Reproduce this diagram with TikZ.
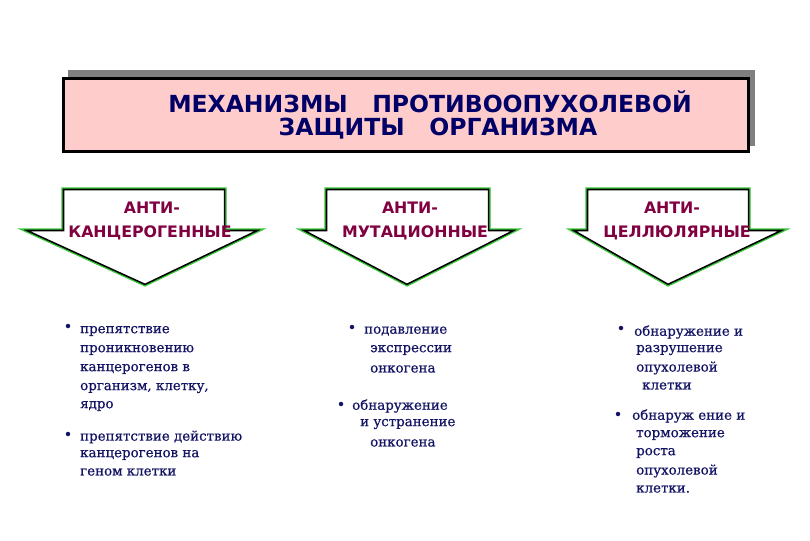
\documentclass[tikz,border=0pt]{standalone}
\usepackage{fontspec}
\setmainfont{DejaVu Serif}
\newfontfamily\headfont{DejaVu Sans}
\newfontfamily\itemfont{DejaVu Serif}[FakeBold=0.6]
\definecolor{navy}{RGB}{0,0,102}
\definecolor{txtblue}{RGB}{20,20,100}
\definecolor{maroon}{RGB}{128,0,64}
\definecolor{pinkbox}{RGB}{255,204,204}
\definecolor{shadowgray}{RGB}{128,128,128}
\definecolor{arrowgreen}{RGB}{60,200,60}
\begin{document}
\begin{tikzpicture}[x=1pt,y=-1pt,
  titletext/.style={font=\headfont\bfseries\fontsize{23.5}{28}\selectfont, text=navy, inner sep=0},
  arrowtext/.style={font=\headfont\bfseries\fontsize{15.8}{19}\selectfont, text=maroon, inner sep=0},
  itemtext/.style={font=\itemfont\fontsize{13.4}{16}\selectfont, text=txtblue, inner sep=0, anchor=west},
  bulletdot/.style={circle, fill=txtblue, inner sep=0, minimum size=4.5pt}
]
\useasboundingbox[fill=white] (0,0) rectangle (810,540);
% title
\fill[shadowgray] (68,70) rectangle (755,146);
\draw[line width=3pt, fill=pinkbox] (63,79) rectangle (748,152);
\node[titletext] (t1) at (430,102) {МЕХАНИЗМЫ\ \ \ ПРОТИВООПУХОЛЕВОЙ};
\node[titletext] (t2) at (438,129) {ЗАЩИТЫ\ \ \ ОРГАНИЗМА};
% arrows
\foreach \nm/\l/\r/\wl/\wr/\tip in {a/62/226/20/264/145, b/325/490/298/520/407, c/586/750/568/788/668}{
  \path[fill=white] (\l,188) -- (\r,188) -- (\r,229) -- (\wr,229) -- (\tip,286) -- (\wl,229) -- (\l,229) -- cycle;
  \begin{scope}
    \clip (\l,188) -- (\r,188) -- (\r,229) -- (\wr,229) -- (\tip,286) -- (\wl,229) -- (\l,229) -- cycle;
    \draw[line width=4.5pt, line join=miter] (\l,188) -- (\r,188) -- (\r,229) -- (\wr,229) -- (\tip,286) -- (\wl,229) -- (\l,229) -- cycle;
  \end{scope}
  \draw[arrowgreen, line width=1.2pt] (\l,188) -- (\r,188) -- (\r,229) -- (\wr,229) -- (\tip,286) -- (\wl,229) -- (\l,229) -- cycle;
}
\node[arrowtext] (a1) at (152,208) {АНТИ-};
\node[arrowtext] (a2) at (150,233) {КАНЦЕРОГЕННЫЕ};
\node[arrowtext] (b1) at (410,208) {АНТИ-};
\node[arrowtext] (b2) at (415,233) {МУТАЦИОННЫЕ};
\node[arrowtext] (c1) at (672,208) {АНТИ-};
\node[arrowtext] (c2) at (677,233) {ЦЕЛЛЮЛЯРНЫЕ};
% left column
\node[bulletdot] (lb1) at (68,326) {};
\node[itemtext] (l1) at (80,331) {препятствие};
\node[itemtext] (l2) at (80,350) {проникновению};
\node[itemtext] (l3) at (80,369) {канцерогенов в};
\node[itemtext] (l4) at (80,388) {организм, клетку,};
\node[itemtext] (l5) at (80,406) {ядро};
\node[bulletdot] (lb2) at (68,434) {};
\node[itemtext] (l6) at (80,437) {препятствие действию};
\node[itemtext] (l7) at (80,455) {канцерогенов на};
\node[itemtext] (l8) at (80,472) {геном клетки};
% middle column
\node[bulletdot] (mb1) at (352,327) {};
\node[itemtext] (m1) at (364,331) {подавление};
\node[itemtext] (m2) at (370,350) {экспрессии};
\node[itemtext] (m3) at (370,369) {онкогена};
\node[bulletdot] (mb2) at (341,404) {};
\node[itemtext] (m4) at (352,406) {обнаружение};
\node[itemtext] (m5) at (360,424) {и устранение};
\node[itemtext] (m6) at (370,443) {онкогена};
% right column
\node[bulletdot] (rb1) at (621,328) {};
\node[itemtext] (r1) at (634,332) {обнаружение и};
\node[itemtext] (r2) at (636,350) {разрушение};
\node[itemtext] (r3) at (636,368) {опухолевой};
\node[itemtext] (r4) at (642,386) {клетки};
\node[bulletdot] (rb2) at (618,414) {};
\node[itemtext] (r5) at (632,416) {обнаруж ение и};
\node[itemtext] (r6) at (636,435) {торможение};
\node[itemtext] (r7) at (636,453) {роста};
\node[itemtext] (r8) at (636,471) {опухолевой};
\node[itemtext] (r9) at (636,489) {клетки.};
\end{tikzpicture}
\end{document}
